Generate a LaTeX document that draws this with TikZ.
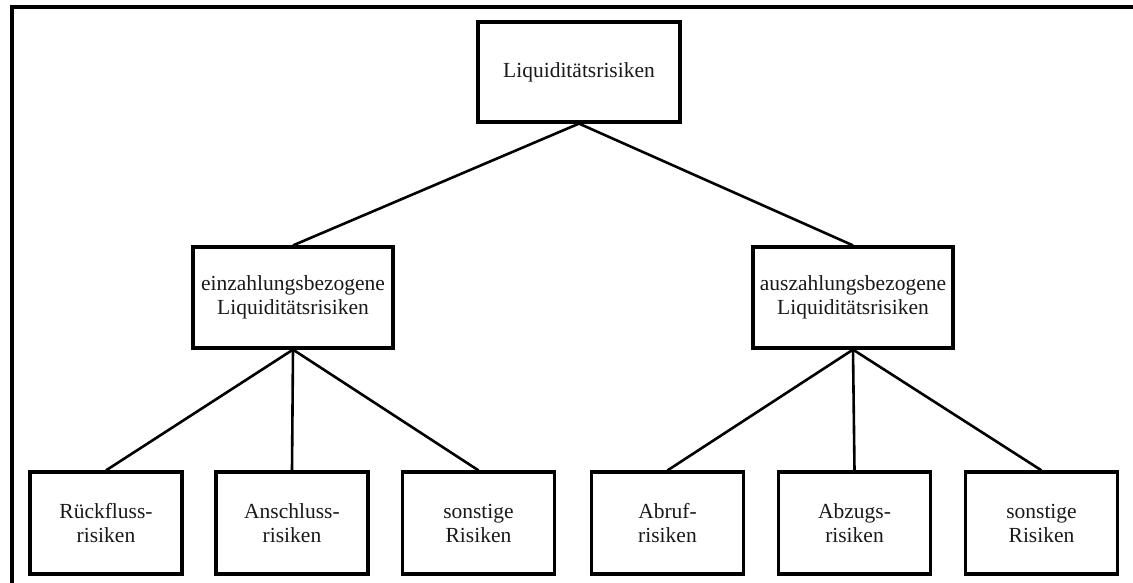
\documentclass[tikz,border=0pt]{standalone}
\usepackage{fontspec}
\setmainfont{Liberation Serif}
\begin{document}
\begin{tikzpicture}[x=1pt,y=-1pt,
  box/.style={draw,line width=3.2pt,rectangle,inner sep=0pt,align=center,
    font=\fontsize{21.5}{24}\selectfont,text=black!90},
  topbox/.style={box,minimum width=202pt,minimum height=100pt},
  midbox/.style={box,minimum width=200pt,minimum height=101pt},
  leafbox/.style={box,minimum width=152pt,minimum height=102pt},
  link/.style={line width=2.6pt}]
\useasboundingbox (0,0) rectangle (1133,583);
% frame
\draw[line width=3.2pt] (12,583) -- (12,7) -- (1133,7);
% nodes
\node[topbox] (root) at (579,72) {Liquiditätsrisiken};
\node[midbox] (ein) at (293,297.5) {einzahlungsbezogene\\Liquiditätsrisiken};
\node[midbox] (aus) at (853,297.5) {auszahlungsbezogene\\Liquiditätsrisiken};
\node[leafbox] (rf) at (106,523) {Rückfluss-\\risiken};
\node[leafbox] (an) at (292,523) {Anschluss-\\risiken};
\node[leafbox] (so1) at (478.5,523) {sonstige\\Risiken};
\node[leafbox] (ab) at (667.5,523) {Abruf-\\risiken};
\node[leafbox] (az) at (854.5,523) {Abzugs-\\risiken};
\node[leafbox] (so2) at (1041.5,523) {sonstige\\Risiken};
% connectors
\draw[link] (root.south) -- (ein.north);
\draw[link] (root.south) -- (aus.north);
\draw[link] (ein.south) -- (rf.north);
\draw[link] (ein.south) -- (an.north);
\draw[link] (ein.south) -- (so1.north);
\draw[link] (aus.south) -- (ab.north);
\draw[link] (aus.south) -- (az.north);
\draw[link] (aus.south) -- (so2.north);
\end{tikzpicture}
\end{document}
